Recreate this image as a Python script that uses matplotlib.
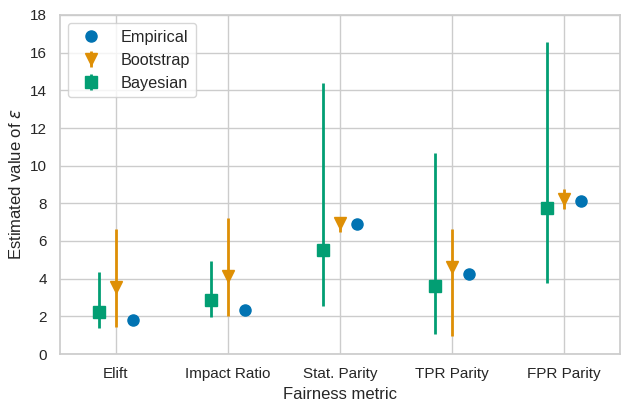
import matplotlib
matplotlib.use("Agg")
import matplotlib.pyplot as plt
import seaborn as sns
import numpy as np

sns.set_theme(style="whitegrid")
plt.rcParams['font.family'] = ['Liberation Sans', 'DejaVu Sans']
plt.rcParams['mathtext.fontset'] = 'custom'
plt.rcParams['mathtext.rm'] = 'DejaVu Sans:italic'
plt.rcParams['mathtext.it'] = 'DejaVu Sans:italic'

categories = ["Elift", "Impact Ratio", "Stat. Parity", "TPR Parity", "FPR Parity"]
empirical = [1.81, 2.35, 6.89, 4.25, 8.13]
boot_mid = [3.56, 4.13, 6.97, 4.64, 8.25]
boot_lo = [1.43, 2.00, 6.46, 0.97, 7.70]
boot_hi = [6.64, 7.22, 7.29, 6.65, 8.75]
bayes_mid = [2.25, 2.85, 5.52, 3.61, 7.74]
bayes_lo = [1.40, 1.96, 2.55, 1.05, 3.75]
bayes_hi = [4.37, 4.96, 14.37, 10.69, 16.59]

pal = sns.color_palette("colorblind")
c_emp, c_boot, c_bay = pal[0], pal[1], pal[2]

fig = plt.figure(figsize=(6.23, 4.01), dpi=100)
ax = fig.add_axes([60/623, 1-354/401, 560/623, 339/401])

x = np.arange(len(categories))
bm = np.array(boot_mid); bl = np.array(boot_lo); bh = np.array(boot_hi)
ym = np.array(bayes_mid); yl = np.array(bayes_lo); yh = np.array(bayes_hi)

h_emp, = ax.plot(x + 0.15, empirical, 'o', color=c_emp, markersize=8, label="Empirical", zorder=3)
h_boot = ax.errorbar(x, bm, yerr=[bm - bl, bh - bm], fmt='v', color=c_boot, markersize=8.5,
                     elinewidth=2, capsize=0, label="Bootstrap", zorder=3)
h_bay = ax.errorbar(x - 0.15, ym, yerr=[ym - yl, yh - ym], fmt='s', color=c_bay, markersize=8,
                    elinewidth=2, capsize=0, label="Bayesian", zorder=3)

ax.set_xlim(-0.5, 4.5)
ax.set_ylim(0, 18)
ax.set_yticks(np.arange(0, 19, 2))
ax.set_xticks(x)
ax.set_xticklabels(categories)
ax.tick_params(labelsize=11)
ax.set_xlabel("Fairness metric", fontsize=12)
ax.set_ylabel(r"Estimated value of $\varepsilon$", fontsize=12)
ax.legend(handles=[h_emp, h_boot, h_bay], loc="upper left", fontsize=11.7)

fig.savefig("out.png", dpi=100)
